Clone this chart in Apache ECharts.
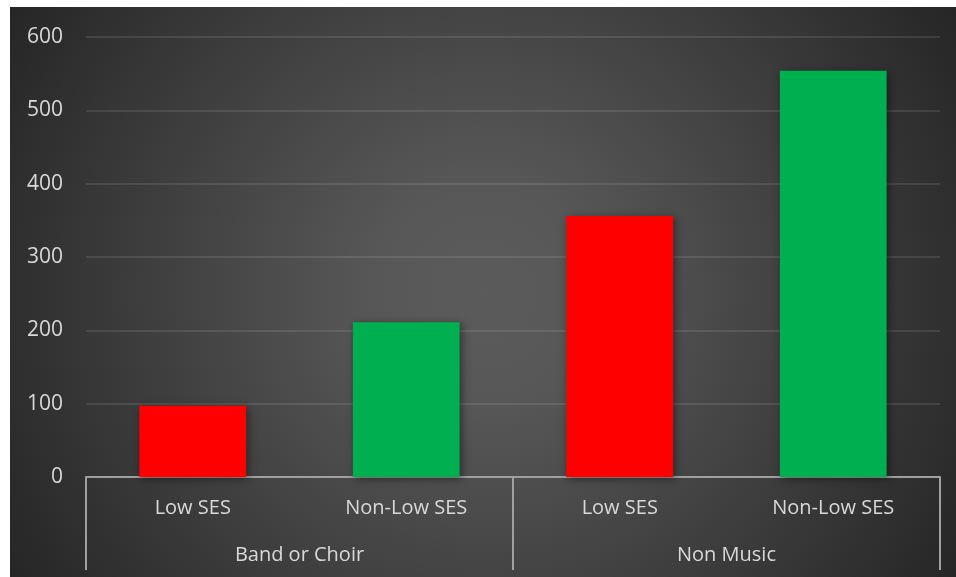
<!DOCTYPE html>
<html>
<head>
<meta charset="utf-8">
<script src="https://cdn.jsdelivr.net/npm/echarts@6/dist/echarts.min.js"></script>
<style>
  html, body { margin: 0; padding: 0; background: #ffffff; }
  #chart { position: absolute; left: 10px; top: 7px; width: 946px; height: 570px; }
</style>
</head>
<body>
<div id="chart"></div>
<script>
// Students per group, split by socio-economic status
const subCategories = ['Low SES', 'Non-Low SES', 'Low SES', 'Non-Low SES'];
const groups = ['Band or Choir', 'Non Music'];
const counts = [97, 211, 356, 554];
const barColors = ['#FF0000', '#00B050', '#FF0000', '#00B050'];
const yTicks = { min: 0, max: 600, interval: 100 };

const labelColor = '#d9d9d9';
const fontFamily = '"Open Sans", "Noto Sans", sans-serif';
const frameColor = '#a0a0a0';

const chart = echarts.init(document.getElementById('chart'), null, { renderer: 'canvas' });

chart.setOption({
  animation: false,
  backgroundColor: {
    type: 'radial', x: 0.5, y: 0.5, r: 0.98,
    colorStops: [
      { offset: 0, color: '#5b5b5b' },
      { offset: 0.2, color: '#575757' },
      { offset: 1, color: '#252525' }
    ]
  },
  grid: { left: 76, right: 16, top: 30, bottom: 100, containLabel: false },
  xAxis: [
    {
      type: 'category',
      data: subCategories,
      position: 'bottom',
      axisLine: { show: false },
      axisTick: { show: false },
      axisLabel: { color: labelColor, fontSize: 20, fontFamily: fontFamily, margin: 21 }
    },
    {
      type: 'category',
      data: groups,
      position: 'bottom',
      axisLine: { show: true, lineStyle: { color: frameColor, width: 2 } },
      axisTick: { show: true, length: 93, lineStyle: { color: frameColor, width: 2 } },
      axisLabel: { color: labelColor, fontSize: 20, fontFamily: fontFamily, margin: 68 }
    }
  ],
  yAxis: {
    type: 'value',
    min: yTicks.min,
    max: yTicks.max,
    interval: yTicks.interval,
    axisLine: { show: false },
    axisTick: { show: false },
    axisLabel: { color: labelColor, fontSize: 21, fontFamily: fontFamily, margin: 23 },
    splitLine: { lineStyle: { color: 'rgba(255,255,255,0.1)', width: 2 } }
  },
  series: [{
    type: 'bar',
    xAxisIndex: 0,
    barWidth: '50%',
    data: counts.map((v, i) => ({
      value: v,
      itemStyle: {
        color: barColors[i],
        shadowBlur: 8,
        shadowColor: 'rgba(0,0,0,0.45)',
        shadowOffsetX: 2,
        shadowOffsetY: 2
      }
    }))
  }]
});
</script>
</body>
</html>
